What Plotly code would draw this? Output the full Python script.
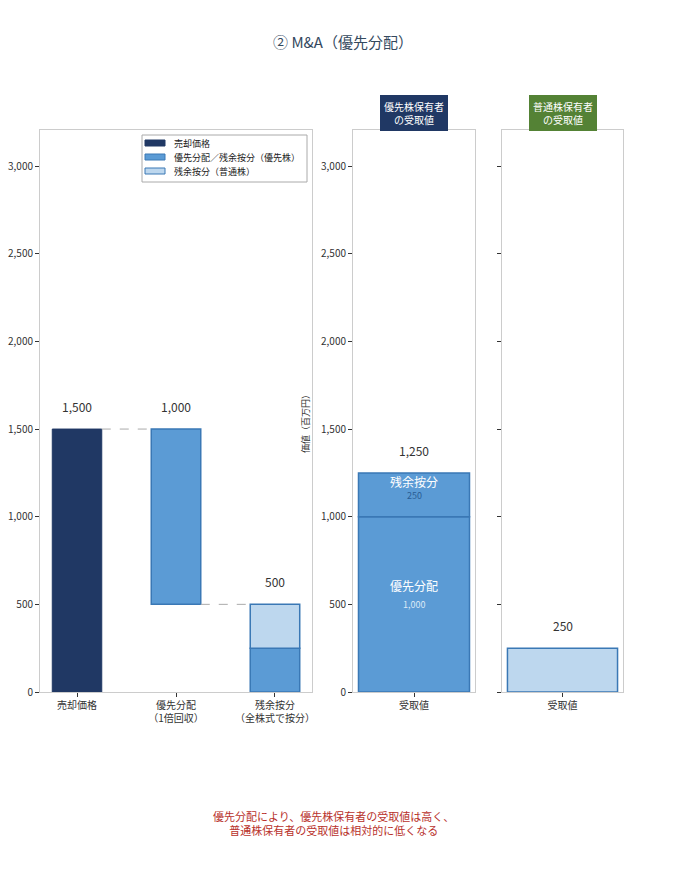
import plotly.graph_objects as go
from plotly.subplots import make_subplots

# ---- data ----
wf_categories = ["売却価格", "優先分配<br>（1倍回収）", "残余按分<br>（全株式で按分）"]
sale_price = [1500]
pref_payout = [1000]          # 優先分配
residual_pref = [250]         # 残余按分（優先株）
residual_common = [250]       # 残余按分（普通株）
recv_category = ["受取値"]
y_ticks = [0, 500, 1000, 1500, 2000, 2500, 3000]
legend_labels = ["売却価格", "優先分配／残余按分（優先株）", "残余按分（普通株）"]

NAVY = "#203864"
MID = "#5b9bd5"
MID_LINE = "#3a78b5"
LIGHT = "#bdd7ee"
GREEN = "#548235"
FONT = "Noto Sans CJK JP"

W, H = 686, 876
ML, MR, MT, MB = 40, 63, 130, 184
PW, PH = W - ML - MR, H - MT - MB

def px(xp):
    return (xp - ML) / PW

def py(yp):
    return (H - MB - yp) / PH

residual_total = residual_pref[0] + residual_common[0]
pref_total = pref_payout[0] + residual_pref[0]

fig = make_subplots(rows=1, cols=3)

# Panel 1: waterfall
fig.add_trace(go.Bar(x=[wf_categories[0]], y=sale_price, base=[0],
                     marker=dict(color=NAVY, line=dict(color=NAVY, width=1)),
                     width=0.5, name=legend_labels[0], showlegend=False), row=1, col=1)
fig.add_trace(go.Bar(x=[wf_categories[1], wf_categories[2]],
                     y=[pref_payout[0], residual_pref[0]],
                     base=[sale_price[0] - pref_payout[0], 0],
                     marker=dict(color=MID, line=dict(color=MID_LINE, width=1.5)),
                     width=0.5, name=legend_labels[1], showlegend=False), row=1, col=1)
fig.add_trace(go.Bar(x=[wf_categories[2]], y=residual_common, base=residual_pref,
                     marker=dict(color=LIGHT, line=dict(color=MID_LINE, width=1.5)),
                     width=0.5, name=legend_labels[2], showlegend=False), row=1, col=1)

# Panel 2: preferred holders
fig.add_trace(go.Bar(x=recv_category, y=pref_payout, base=[0],
                     marker=dict(color=MID, line=dict(color=MID_LINE, width=1.5)),
                     width=0.91, showlegend=False), row=1, col=2)
fig.add_trace(go.Bar(x=recv_category, y=residual_pref, base=pref_payout,
                     marker=dict(color=MID, line=dict(color=MID_LINE, width=1.5)),
                     width=0.91, showlegend=False), row=1, col=2)

# Panel 3: common holders
fig.add_trace(go.Bar(x=recv_category, y=residual_common, base=[0],
                     marker=dict(color=LIGHT, line=dict(color=MID_LINE, width=1.5)),
                     width=0.91, showlegend=False), row=1, col=3)

# connector dashed lines
fig.add_shape(type="line", xref="x", yref="y", x0=0.25, x1=0.75,
              y0=sale_price[0], y1=sale_price[0],
              line=dict(color="#aaaaaa", width=1, dash="dash"))
fig.add_shape(type="line", xref="x", yref="y", x0=1.25, x1=1.75,
              y0=sale_price[0] - pref_payout[0], y1=sale_price[0] - pref_payout[0],
              line=dict(color="#aaaaaa", width=1, dash="dash"))

# manual legend (box + swatches)
fig.add_shape(type="rect", xref="paper", yref="paper",
              x0=px(142), x1=px(307), y0=py(182), y1=py(135),
              line=dict(color="#aaaaaa", width=1), fillcolor="white")
legend_colors = [NAVY, MID, LIGHT]
legend_lines = [NAVY, MID_LINE, MID_LINE]
ann = []
for i, (lab, c, lc) in enumerate(zip(legend_labels, legend_colors, legend_lines)):
    yc = 143 + 14 * i
    fig.add_shape(type="rect", xref="paper", yref="paper",
                  x0=px(145), x1=px(165), y0=py(yc + 3), y1=py(yc - 3),
                  line=dict(color=lc, width=1), fillcolor=c)
    ann.append(dict(xref="paper", yref="paper", x=px(172), y=py(yc), text=lab,
                    xanchor="left", yanchor="middle", showarrow=False,
                    font=dict(size=9, color="#222222")))

def top_label(xref, yref, x, y, text):
    ann.append(dict(xref=xref, yref=yref, x=x, y=y, text=text, showarrow=False,
                    yanchor="bottom", yshift=12, font=dict(size=12, color="#333333")))

top_label("x", "y", 0, sale_price[0], f"{sale_price[0]:,}")
top_label("x", "y", 1, sale_price[0], f"{pref_payout[0]:,}")
top_label("x", "y", 2, residual_total, f"{residual_total:,}")
top_label("x2", "y2", 0, pref_total, f"{pref_total:,}")
top_label("x3", "y3", 0, residual_common[0], f"{residual_common[0]:,}")

# inner labels panel 2
mid_pref = pref_payout[0] / 2
mid_res = pref_payout[0] + residual_pref[0] / 2
ann.append(dict(xref="x2", yref="y2", x=0, y=mid_pref, text=f"{pref_payout[0]:,}",
                showarrow=False, font=dict(size=9, color="#dce9f7")))
ann.append(dict(xref="x2", yref="y2", x=0, y=mid_pref, text="優先分配", yshift=19,
                showarrow=False, font=dict(size=12, color="white")))
ann.append(dict(xref="x2", yref="y2", x=0, y=mid_res, text=f"{residual_pref[0]:,}",
                yshift=-1, showarrow=False, font=dict(size=9, color="#2a5d94")))
ann.append(dict(xref="x2", yref="y2", x=0, y=mid_res, text="残余按分", yshift=13,
                showarrow=False, font=dict(size=12, color="white")))

# header boxes
d2 = (px(353), px(475))
d3 = (px(502), 1.0)
ann.append(dict(xref="paper", yref="paper", x=(d2[0] + d2[1]) / 2, y=1.0,
                yanchor="bottom", xanchor="center", showarrow=False, yshift=-1,
                text="優先株保有者<br>の受取値", bgcolor=NAVY, bordercolor=NAVY,
                borderpad=3, font=dict(size=10, color="white")))
ann.append(dict(xref="paper", yref="paper", x=(d3[0] + d3[1]) / 2, y=1.0,
                yanchor="bottom", xanchor="center", showarrow=False, yshift=-1,
                text="普通株保有者<br>の受取値", bgcolor=GREEN, bordercolor=GREEN,
                borderpad=3, font=dict(size=10, color="white")))

# y axis title between panels
ann.append(dict(xref="paper", yref="paper", x=px(305), y=py(422), textangle=-90,
                text="価値（百万円）", showarrow=False, font=dict(size=9, color="#333333")))

# bottom note
ann.append(dict(xref="paper", yref="paper", x=px(333), y=py(823), yanchor="middle",
                text="優先分配により、優先株保有者の受取値は高く、<br>普通株保有者の受取値は相対的に低くなる",
                showarrow=False, font=dict(size=11, color="#b8312b")))

fig.update_layout(
    width=W, height=H,
    margin=dict(l=ML, r=MR, t=MT, b=MB),
    paper_bgcolor="white", plot_bgcolor="white",
    barmode="overlay",
    showlegend=False,
    font=dict(family=FONT, size=10, color="#333333"),
    title=dict(text="② M&A（優先分配）", x=0.5, xanchor="center", y=0.951, yanchor="middle",
               font=dict(size=15, color="#34495e")),
    annotations=ann,
)

axis_common = dict(showline=True, linecolor="#cccccc", linewidth=1, mirror=True,
                   showgrid=False, zeroline=False, ticks="outside", ticklen=4,
                   tickcolor="#333333", tickfont=dict(size=10, color="#333333"),
                   automargin=False)
fig.update_xaxes(**axis_common)
fig.update_yaxes(**axis_common)
fig.update_layout(
    xaxis=dict(domain=[0, px(312)], range=[-0.374, 2.374]),
    xaxis2=dict(domain=list(d2), range=[-0.5, 0.5]),
    xaxis3=dict(domain=list(d3), range=[-0.5, 0.5]),
    yaxis=dict(range=[0, 3206], tickvals=y_ticks, tickformat=","),
    yaxis2=dict(range=[0, 3206], tickvals=y_ticks, tickformat=","),
    yaxis3=dict(range=[0, 3206], tickvals=y_ticks, showticklabels=False),
)

fig.write_html("out.html")
